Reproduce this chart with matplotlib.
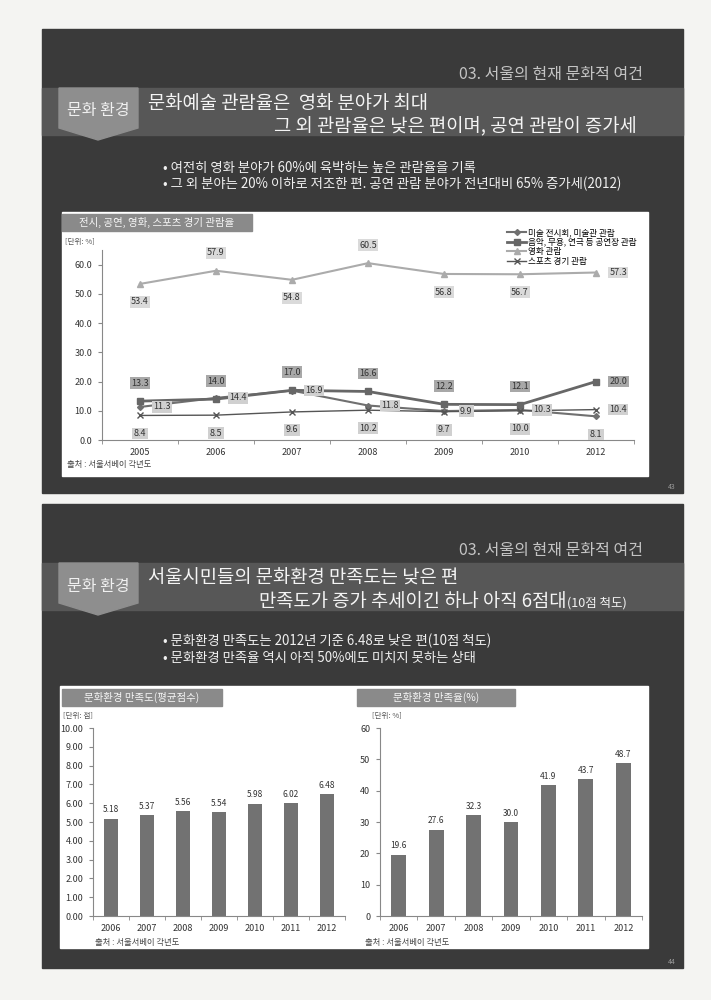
import numpy as np
import matplotlib.pyplot as plt
from matplotlib.patches import Rectangle, Polygon

plt.rcParams['font.family'] = ['Noto Sans CJK KR', 'DejaVu Sans']

W, H = 711, 1000

##### DATA #####
years_line = ['2005', '2006', '2007', '2008', '2009', '2010', '2012']
art = [11.3, 14.4, 16.9, 11.8, 9.9, 10.3, 8.1]          # 미술 전시회
perf = [13.3, 14.0, 17.0, 16.6, 12.2, 12.1, 20.0]        # 공연장
movie = [53.4, 57.9, 54.8, 60.5, 56.8, 56.7, 57.3]       # 영화
sports = [8.4, 8.5, 9.6, 10.2, 9.7, 10.0, 10.4]          # 스포츠
series_names = ['미술 전시회, 미술관 관람', '음악, 무용, 연극 등 공연장 관람',
                '영화 관람', '스포츠 경기 관람']

years_bar = ['2006', '2007', '2008', '2009', '2010', '2011', '2012']
score = [5.18, 5.37, 5.56, 5.54, 5.98, 6.02, 6.48]       # 만족도(평균점수)
rate = [19.6, 27.6, 32.3, 30.0, 41.9, 43.7, 48.7]        # 만족율(%)

fig = plt.figure(figsize=(W / 100, H / 100), dpi=100)
fig.patch.set_facecolor('#f4f4f2')

# background layer in pixel coordinates
bg = fig.add_axes([0, 0, 1, 1])
bg.set_xlim(0, W)
bg.set_ylim(H, 0)
bg.axis('off')


def px_axes(l, t, r, b):
    return fig.add_axes([l / W, 1 - b / H, (r - l) / W, (b - t) / H])


def slide_frame(off, page):
    bg.add_patch(Rectangle((42, 29 + off), 641, 464, color='#3a3a3a'))
    bg.add_patch(Rectangle((42, 88 + off), 641, 47, color='#575757'))
    bg.add_patch(Polygon([(59, 88 + off), (138, 88 + off), (138, 128 + off),
                          (98, 140 + off), (59, 128 + off)], color='#8e8e8e'))
    bg.text(98, 111 + off, '문화 환경', color='#f0f0f0', fontsize=11.5,
            ha='center', va='center')
    bg.text(643, 75 + off, '03. 서울의 현재 문화적 여건', color='#c4c4c4',
            fontsize=11.5, ha='right', va='center')
    bg.text(676, 487 + off, page, color='#9a9a9a', fontsize=5, ha='right', va='center')


# ---------- top slide ----------
slide_frame(0, '43')
bg.text(148, 103, '문화예술 관람율은  영화 분야가 최대', color='#f4f4f4',
        fontsize=13.5, va='center')
bg.text(637, 127, '그 외 관람율은 낮은 편이며, 공연 관람이 증가세', color='#f4f4f4',
        fontsize=13.5, ha='right', va='center')
bg.text(163, 168, '• 여전히 영화 분야가 60%에 육박하는 높은 관람율을 기록',
        color='#f0f0f0', fontsize=9.6, va='center')
bg.text(163, 184, '• 그 외 분야는 20% 이하로 저조한 편. 공연 관람 분야가 전년대비 65% 증가세(2012)',
        color='#f0f0f0', fontsize=9.6, va='center')
bg.add_patch(Rectangle((62, 212), 586, 264, color='#ffffff'))
bg.add_patch(Rectangle((62, 214), 190, 17, color='#8a8a8a'))
bg.text(157, 222.5, '전시, 공연, 영화, 스포츠 경기 관람율', color='#f6f6f6',
        fontsize=7.5, ha='center', va='center')
bg.text(65, 242, '[단위: %]', color='#555555', fontsize=5.5, va='center')
bg.text(67, 464, '출처 : 서울서베이 각년도', color='#444444', fontsize=6, va='center')

ax = px_axes(102, 250, 634, 440)
x = np.arange(len(years_line))
styles = [
    (art, '#707070', 'D', 3, 1.5, '#d0d0d0'),
    (perf, '#676767', 's', 4, 2.0, '#a8a8a8'),
    (movie, '#ababab', '^', 4, 1.5, '#dadada'),
    (sports, '#555555', 'x', 4, 1.0, '#d0d0d0'),
]
for (vals, c, m, ms, lw, box), name in zip(styles, series_names):
    ax.plot(x, vals, color=c, marker=m, markersize=ms, linewidth=lw, label=name)

# label placement per point: r=right, a=above, b=below
pos = {
    0: ['r', 'r', 'r', 'r', 'r', 'r', 'b'],
    1: ['a', 'a', 'a', 'a', 'a', 'a', 'r'],
    2: ['b', 'a', 'b', 'a', 'b', 'b', 'r'],
    3: ['b', 'b', 'b', 'b', 'b', 'b', 'r'],
}
offs = {'r': (16, 0), 'a': (0, 13), 'b': (0, -13)}
for si, (vals, c, m, ms, lw, box) in enumerate(styles):
    for i, v in enumerate(vals):
        dx, dy = offs[pos[si][i]]
        ax.annotate(f'{v:.1f}', (x[i], v), xytext=(dx, dy), textcoords='offset points',
                    ha='center', va='center', fontsize=6.5, color='#333333',
                    bbox=dict(boxstyle='square,pad=0.15', fc=box, ec='none'))

ax.set_xlim(-0.5, len(x) - 0.5)
ax.set_ylim(0, 65)
ax.set_yticks(np.arange(0, 61, 10))
ax.set_yticklabels([f'{v:.1f}' for v in np.arange(0, 61, 10)])
ax.set_xticks(x)
ax.set_xticklabels(years_line)
ax.set_xticks(np.arange(-0.5, len(x)), minor=True)
ax.tick_params(axis='x', which='major', length=0, labelsize=6.5, colors='#333333', pad=6)
ax.tick_params(axis='x', which='minor', length=3, color='#888888')
ax.tick_params(axis='y', length=3, labelsize=6.5, colors='#333333', pad=4)
ax.tick_params(axis='y', color='#888888')
for s in ['top', 'right']:
    ax.spines[s].set_visible(False)
for s in ['left', 'bottom']:
    ax.spines[s].set_color('#888888')
    ax.spines[s].set_linewidth(0.8)
ax.patch.set_alpha(0)
ax.legend(loc='upper left', bbox_to_anchor=(503 / W, 1 - 224 / H), bbox_transform=fig.transFigure,
          frameon=False, fontsize=6.2, handlelength=2.2, labelspacing=0.05,
          handletextpad=0.2, borderpad=0)

# ---------- bottom slide ----------
off = 475
slide_frame(off, '44')
bg.text(148, 578, '서울시민들의 문화환경 만족도는 낮은 편', color='#f4f4f4',
        fontsize=13.5, va='center')
small = bg.text(627, 603, '(10점 척도)', color='#f4f4f4', fontsize=9,
                ha='right', va='center')
fig.canvas.draw()
sw = small.get_window_extent().width
bg.text(627 - sw - 1, 602, '만족도가 증가 추세이긴 하나 아직 6점대', color='#f4f4f4',
        fontsize=13.5, ha='right', va='center')
bg.text(163, 641, '• 문화환경 만족도는 2012년 기준 6.48로 낮은 편(10점 척도)',
        color='#f0f0f0', fontsize=9.6, va='center')
bg.text(163, 658, '• 문화환경 만족율 역시 아직 50%에도 미치지 못하는 상태',
        color='#f0f0f0', fontsize=9.6, va='center')
bg.add_patch(Rectangle((60, 686), 588, 262, color='#ffffff'))
bg.add_patch(Rectangle((62, 689), 160, 17, color='#8a8a8a'))
bg.text(142, 697.5, '문화환경 만족도(평균점수)', color='#f6f6f6', fontsize=7.5,
        ha='center', va='center')
bg.add_patch(Rectangle((357, 689), 158, 17, color='#8a8a8a'))
bg.text(436, 697.5, '문화환경 만족율(%)', color='#f6f6f6', fontsize=7.5,
        ha='center', va='center')
bg.text(63, 716, '[단위: 점]', color='#555555', fontsize=5.5, va='center')
bg.text(372, 716, '[단위: %]', color='#555555', fontsize=5.5, va='center')
bg.text(95, 942, '출처 : 서울서베이 각년도', color='#444444', fontsize=6, va='center')
bg.text(365, 942, '출처 : 서울서베이 각년도', color='#444444', fontsize=6, va='center')


def bar_chart(a, vals, ymax, step, fmt, lfmt):
    xb = np.arange(len(years_bar))
    a.bar(xb, vals, width=0.4, color='#727272')
    for i, v in enumerate(vals):
        a.annotate(lfmt.format(v), (xb[i], v), xytext=(0, 3), textcoords='offset points',
                   ha='center', va='bottom', fontsize=6, color='#333333')
    a.set_xlim(-0.5, len(xb) - 0.5)
    a.set_ylim(0, ymax)
    ticks = np.arange(0, ymax + step / 2, step)
    a.set_yticks(ticks)
    a.set_yticklabels([fmt.format(t) for t in ticks])
    a.set_xticks(xb)
    a.set_xticklabels(years_bar)
    a.set_xticks(np.arange(-0.5, len(xb)), minor=True)
    a.tick_params(axis='x', which='major', length=0, labelsize=6.5, colors='#333333', pad=6)
    a.tick_params(axis='x', which='minor', length=3, color='#888888')
    a.tick_params(axis='y', length=3, labelsize=6.5, colors='#333333', color='#888888', pad=4)
    for s in ['top', 'right']:
        a.spines[s].set_visible(False)
    for s in ['left', 'bottom']:
        a.spines[s].set_color('#888888')
        a.spines[s].set_linewidth(0.8)
    a.patch.set_alpha(0)


ax1 = px_axes(93, 728, 345, 916)
bar_chart(ax1, score, 10, 1, '{:.2f}', '{:.2f}')
ax2 = px_axes(380, 728, 642, 916)
bar_chart(ax2, rate, 60, 10, '{:.0f}', '{:.1f}')

fig.savefig('out.png', dpi=100, facecolor=fig.get_facecolor())
